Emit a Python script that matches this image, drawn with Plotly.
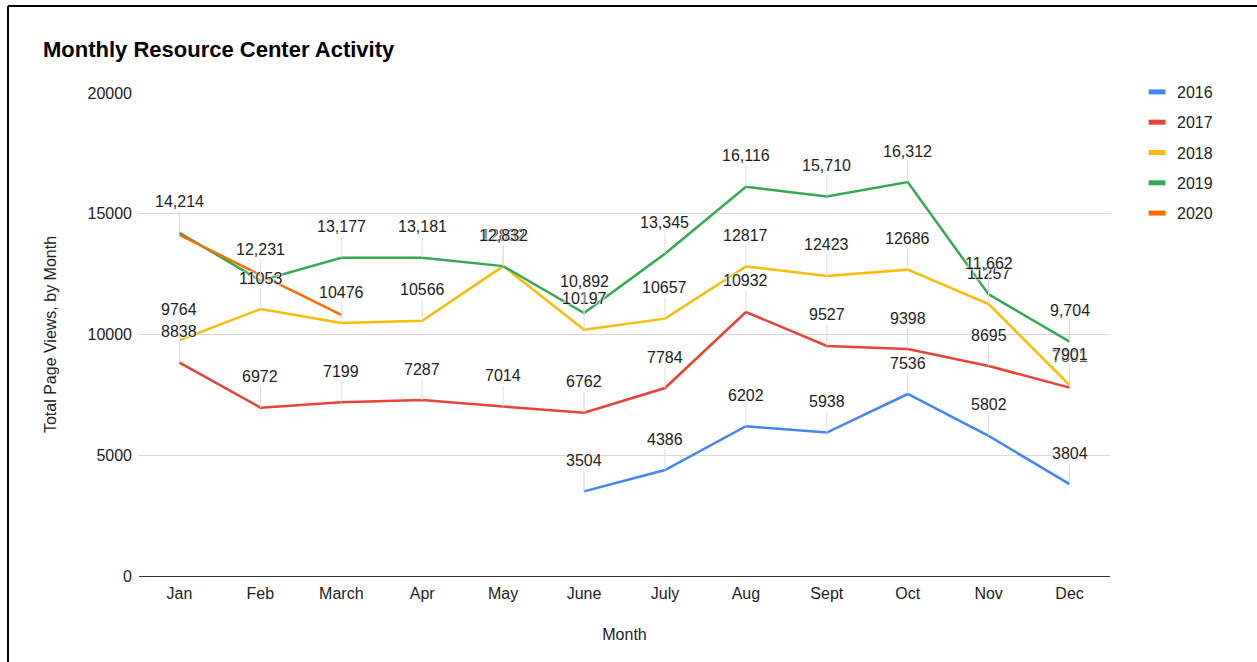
import plotly.graph_objects as go

months = ["Jan", "Feb", "March", "Apr", "May", "June", "July", "Aug", "Sept", "Oct", "Nov", "Dec"]
years = ["2016", "2017", "2018", "2019", "2020"]

v2016 = [None, None, None, None, None, 3504, 4386, 6202, 5938, 7536, 5802, 3804]
v2017 = [8838, 6972, 7199, 7287, 7014, 6762, 7784, 10932, 9527, 9398, 8695, 7801]
v2018 = [9764, 11053, 10476, 10566, 12832, 10197, 10657, 12817, 12423, 12686, 11257, 7901]
v2019 = [14214, 12231, 13177, 13181, 12832, 10892, 13345, 16116, 15710, 16312, 11662, 9704]
v2020 = [14120, 12460, 10810, None, None, None, None, None, None, None, None, None]

series = [v2016, v2017, v2018, v2019, v2020]
colors = ["#4285F4", "#EA4335", "#FBBC04", "#34A853", "#FF6D01"]
label_fmt = ["{:d}", "{:d}", "{:d}", "{:,d}", None]

FONT = "Liberation Sans, Arial, sans-serif"
W, H = 1257, 662
L, R, T, B = 139, 1110, 93, 576

fig = go.Figure()
for yr, vals, col in zip(years, series, colors):
    fig.add_trace(go.Scatter(x=months, y=vals, mode="lines", name=yr,
                             line=dict(color=col, width=2.5),
                             showlegend=False, connectgaps=False))
for yr, col in zip(years, colors):
    fig.add_trace(go.Scatter(x=[None], y=[None], mode="markers", name=yr,
                             legendgroup=yr,
                             marker=dict(symbol="line-ew", size=12,
                                         line=dict(width=5, color=col))))

halo = "0 0 2px #fff, 0 0 2px #fff, 0 0 3px #fff"
annotations = []
for vals, fmt in zip(series, label_fmt):
    if fmt is None:
        continue
    for m, v in zip(months, vals):
        if v is None:
            continue
        annotations.append(dict(
            x=m, y=v, xref="x", yref="y", text=fmt.format(v),
            showarrow=True, arrowhead=0, arrowwidth=1, arrowcolor="#dcdcdc",
            ax=0, ay=-31,
            font=dict(family=FONT, size=16, color="#222222", shadow=halo)))


def px_x(p):
    return (p - L) / (R - L)


def px_y(p):
    return (B - p) / (B - T)


shapes = [
    dict(type="line", xref="paper", yref="paper", x0=px_x(8), x1=px_x(W + 5),
         y0=px_y(6), y1=px_y(6), line=dict(color="#000", width=2)),
    dict(type="line", xref="paper", yref="paper", x0=px_x(8), x1=px_x(8),
         y0=px_y(6), y1=px_y(H + 5), line=dict(color="#000", width=2)),
]

fig.update_layout(
    width=W, height=H,
    margin=dict(l=L, r=W - R, t=T, b=H - B),
    paper_bgcolor="#fff", plot_bgcolor="#fff",
    font=dict(family=FONT, size=16, color="#222222"),
    title=dict(text="<b>Monthly Resource Center Activity</b>",
               font=dict(family=FONT, size=22, color="#000"),
               x=43 / W, xref="container", xanchor="left",
               y=1 - 49 / H, yref="container", yanchor="middle"),
    xaxis=dict(type="category", categoryorder="array", categoryarray=months,
               range=[-0.5, 11.5], showgrid=False, zeroline=False,
               showline=False, ticks="", ticklabelstandoff=6,
               tickfont=dict(family=FONT, size=16, color="#222222"),
               title=dict(text="Month", standoff=27,
                          font=dict(family=FONT, size=16, color="#222222"))),
    yaxis=dict(range=[0, 20000], dtick=5000, tickformat="d",
               showgrid=True, gridcolor="#d9d9d9", gridwidth=1,
               zeroline=True, zerolinecolor="#333333", zerolinewidth=1,
               showline=False, ticks="", ticklabelstandoff=6,
               tickfont=dict(family=FONT, size=16, color="#222222"),
               title=dict(text="Total Page Views, by Month", standoff=26,
                          font=dict(family=FONT, size=16, color="#222222"))),
    legend=dict(x=px_x(1137), xanchor="left", y=px_y(75), yanchor="top",
                font=dict(family=FONT, size=16, color="#222222"),
                tracegroupgap=6.5, traceorder="grouped",
                bgcolor="rgba(0,0,0,0)"),
    annotations=annotations,
    shapes=shapes,
    hovermode=False,
)

fig.write_html("out.html", config={"displayModeBar": False},
               post_script="document.body.style.margin='0px';")
